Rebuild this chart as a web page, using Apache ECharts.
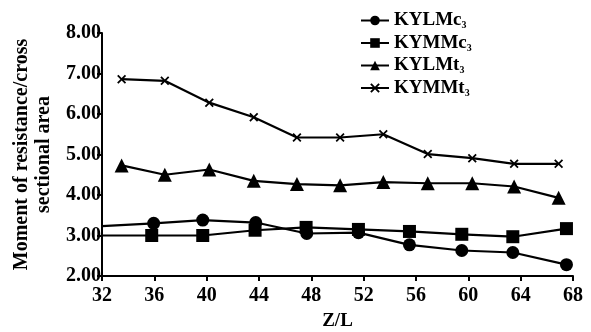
<!DOCTYPE html>
<html>
<head>
<meta charset="utf-8">
<script src="https://cdn.jsdelivr.net/npm/echarts@6/dist/echarts.min.js"></script>
<style>
  html, body { margin: 0; padding: 0; background: #fff; }
  #main { width: 591px; height: 332px; }
</style>
</head>
<body>
<div id="main"></div>
<script>
var seriesNames = ["KYLMc3", "KYMMc3", "KYLMt3", "KYMMt3"];

// Z/L positions and values
var lmcX = [32, 35.95, 39.7, 43.75, 47.65, 51.6, 55.5, 59.5, 63.4, 67.5];
var lmcY = [3.23, 3.30, 3.38, 3.32, 3.05, 3.07, 2.77, 2.63, 2.58, 2.28];

var mmcX = [32, 35.8, 39.7, 43.7, 47.6, 51.6, 55.5, 59.5, 63.4, 67.5];
var mmcY = [3.00, 3.00, 3.00, 3.13, 3.20, 3.15, 3.10, 3.03, 2.97, 3.17];

var tX = [33.5, 36.8, 40.2, 43.6, 46.9, 50.2, 53.5, 56.9, 60.3, 63.5, 66.9];
var lmtY = [4.73, 4.50, 4.63, 4.35, 4.27, 4.24, 4.32, 4.29, 4.29, 4.21, 3.93];
var mmtY = [6.86, 6.82, 6.28, 5.92, 5.42, 5.42, 5.50, 5.01, 4.91, 4.77, 4.77];

var yTicks = [2, 3, 4, 5, 6, 7, 8];

var crossPath = "path://M0,1.4L1.4,0L5,3.6L8.6,0L10,1.4L6.4,5L10,8.6L8.6,10L5,6.4L1.4,10L0,8.6L3.6,5Z";

// the c3 lines begin at the y axis with no marker
function pairs(xs, ys, bareFirst) {
  return xs.map(function (x, i) {
    var p = { value: [x, ys[i]] };
    if (bareFirst && i === 0) p.symbol = "none";
    return p;
  });
}

function lineSeries(name, data, symbol, size) {
  return {
    name: name,
    type: "line",
    data: data,
    symbol: symbol,
    symbolSize: size,
    showAllSymbol: true,
    lineStyle: { color: "#000", width: 2.2 },
    itemStyle: { color: "#000" }
  };
}

var chart = echarts.init(document.getElementById("main"));
chart.setOption({
  animation: false,
  backgroundColor: "#fff",
  textStyle: { fontFamily: "Liberation Serif", fontWeight: "bold", color: "#000" },
  grid: { left: 102, right: 18, top: 33, bottom: 56, outerBoundsMode: "none", containLabel: false },
  legend: {
    orient: "vertical",
    left: 355,
    top: 6,
    itemGap: 3,
    itemWidth: 28,
    itemHeight: 12,
    data: seriesNames,
    formatter: function (n) { return n.slice(0, -1) + "{sub|" + n.slice(-1) + "}"; },
    textStyle: {
      fontFamily: "Liberation Serif",
      fontWeight: "bold",
      fontSize: 19,
      color: "#000",
      rich: {
        sub: { fontFamily: "Liberation Serif", fontWeight: "bold", fontSize: 10, color: "#000", padding: [10, 0, 0, 0] }
      }
    }
  },
  xAxis: {
    type: "value",
    min: 32,
    max: 68,
    interval: 4,
    name: "Z/L",
    nameLocation: "middle",
    nameGap: 36,
    nameTextStyle: { fontFamily: "Liberation Serif", fontWeight: "bold", fontSize: 19, color: "#000" },
    axisLine: { lineStyle: { color: "#000", width: 2 } },
    axisTick: { length: 5, lineStyle: { color: "#000", width: 2 } },
    axisLabel: { fontFamily: "Liberation Serif", fontWeight: "bold", fontSize: 20, color: "#000", margin: 10 },
    splitLine: { show: false }
  },
  yAxis: {
    type: "value",
    min: yTicks[0],
    max: yTicks[yTicks.length - 1],
    interval: 1,
    name: "Moment of resistance/cross\nsectional area",
    nameLocation: "middle",
    nameGap: 37,
    nameTextStyle: { fontFamily: "Liberation Serif", fontWeight: "bold", fontSize: 20, color: "#000", lineHeight: 22 },
    axisLine: { show: true, lineStyle: { color: "#000", width: 2 } },
    axisTick: { show: true, length: 5, lineStyle: { color: "#000", width: 2 } },
    axisLabel: {
      fontFamily: "Liberation Serif", fontWeight: "bold", fontSize: 20, color: "#000", margin: 1,
      formatter: function (v) { return v.toFixed(2); }
    },
    splitLine: { show: false }
  },
  series: [
    lineSeries(seriesNames[0], pairs(lmcX, lmcY, true), "circle", 13),
    lineSeries(seriesNames[1], pairs(mmcX, mmcY, true), "rect", 13),
    lineSeries(seriesNames[2], pairs(tX, lmtY, false), "triangle", 14),
    lineSeries(seriesNames[3], pairs(tX, mmtY, false), crossPath, 9)
  ]
});
</script>
</body>
</html>
